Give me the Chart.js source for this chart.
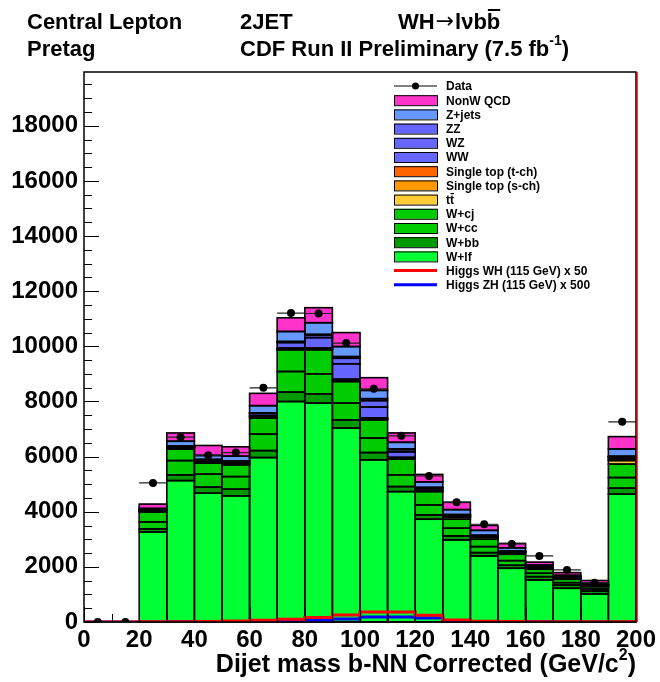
<!DOCTYPE html>
<html>
<head>
<meta charset="utf-8">
<script src="https://cdn.jsdelivr.net/npm/chart.js@4.4.1/dist/chart.umd.min.js"></script>
<style>
  html, body { margin: 0; padding: 0; background: #fff; }
</style>
</head>
<body>
<canvas id="massChart" width="660" height="682"></canvas>
<script>
// dijet mass bins, 10 GeV wide
const binLabels = ['0-10','10-20','20-30','30-40','40-50','50-60','60-70','70-80','80-90','90-100',
  '100-110','110-120','120-130','130-140','140-150','150-160','160-170','170-180','180-190','190-200'];
const binEdges = [0,10,20,30,40,50,60,70,80,90,100,110,120,130,140,150,160,170,180,190,200];
const yTickValues = [0,2000,4000,6000,8000,10000,12000,14000,16000,18000];

const dataCounts = [0,0,5045,6705,6051,6146,8494,11205,11191,10117,8458,6752,5300,4345,3546,2831,2396,1888,1427,7260];

// backgrounds, bottom of the stack first
const wlf   = [0,0,3267,5129,4672,4574,5964,7997,7939,7031,5881,4730,3728,2977,2396,1949,1525,1223,1016,4636];
const wbb   = [0,0,109,207,218,243,254,341,338,301,265,182,156,145,120,109,120,120,109,218];
const wcc   = [0,0,254,519,472,457,595,748,726,606,523,425,363,280,218,167,123,83,73,385];
const wcj   = [0,0,363,414,399,425,581,788,871,784,664,570,483,327,269,232,145,123,83,486];
const ttbar = [0,0,30,40,55,55,60,25,25,40,30,35,25,80,70,60,45,45,45,131];
const stopS = [0,0,5,8,8,8,10,12,12,15,12,10,8,8,7,6,5,4,4,20];
const stopT = [0,0,12,18,20,20,25,25,25,30,25,20,15,15,12,10,8,8,7,73];
const ww    = [0,0,20,30,40,40,80,200,380,560,400,200,70,50,40,30,25,20,15,40];
const wz    = [0,0,5,7,8,8,10,30,90,200,230,80,25,10,8,6,5,4,3,15];
const zz    = [0,0,2,3,3,3,3,8,25,60,70,25,8,3,2,2,2,1,1,5];
const zjets = [0,0,50,181,145,181,265,363,425,363,301,240,203,181,181,120,60,62,40,265];
const qcd   = [0,0,160,301,363,341,447,497,545,508,461,341,269,265,181,160,109,98,109,450];

// signal templates (scaled)
const higgsWH = [0,0,0,5,10,20,36,60,98,160,254,363,363,243,72,25,15,10,8,5];
const higgsZH = [0,0,0,3,5,10,15,30,50,55,110,180,180,145,36,15,8,5,4,3];

const stack = [
  { label: 'W+lf', values: wlf, color: '#00ff33' },
  { label: 'W+bb', values: wbb, color: '#009900' },
  { label: 'W+cc', values: wcc, color: '#00cc00' },
  { label: 'W+cj', values: wcj, color: '#00cc00' },
  { label: 'tt', values: ttbar, color: '#ffcc33' },
  { label: 'Single top (s-ch)', values: stopS, color: '#ff9900' },
  { label: 'Single top (t-ch)', values: stopT, color: '#ff6600' },
  { label: 'WW', values: ww, color: '#6666ff' },
  { label: 'WZ', values: wz, color: '#6666ff' },
  { label: 'ZZ', values: zz, color: '#6666ff' },
  { label: 'Z+jets', values: zjets, color: '#6699ff' },
  { label: 'NonW QCD', values: qcd, color: '#ff33cc' }
];

const FONT = '"Liberation Sans", Arial, Helvetica, sans-serif';

function stepPoints(vals) {
  const pts = vals.map((v, i) => ({ x: binEdges[i], y: v }));
  pts.push({ x: binEdges[binEdges.length - 1], y: vals[vals.length - 1] });
  return pts;
}

const datasets = [];
datasets.push({
  type: 'line', label: 'Data',
  data: dataCounts.map((n, i) => ({ x: (binEdges[i] + binEdges[i + 1]) / 2, y: n })),
  xAxisID: 'xEdge', yAxisID: 'y', stack: 'data',
  showLine: false, pointRadius: 4, pointHoverRadius: 4, pointBackgroundColor: '#000',
  pointBorderColor: '#000', pointBorderWidth: 0, order: 0
});
datasets.push({
  type: 'line', label: 'Higgs WH (115 GeV) x 50', data: stepPoints(higgsWH), xAxisID: 'xEdge', yAxisID: 'y',
  stack: 'wh', stepped: 'after', borderColor: '#ff0000', borderWidth: 3, pointRadius: 0, fill: false, order: 1
});
datasets.push({
  type: 'line', label: 'Higgs ZH (115 GeV) x 500', data: stepPoints(higgsZH), xAxisID: 'xEdge', yAxisID: 'y',
  stack: 'zh', stepped: 'after', borderColor: '#0000ff', borderWidth: 3, pointRadius: 0, fill: false, order: 2
});
stack.forEach(s => {
  datasets.push({
    type: 'bar', label: s.label, data: s.values, xAxisID: 'x', yAxisID: 'y', stack: 'bkg',
    backgroundColor: s.color, borderWidth: 0, barPercentage: 1, categoryPercentage: 1,
    grouped: false, order: 5
  });
});

// black outline on every stacked component, drawn once all the bars are filled
const outlinePlugin = {
  id: 'stackOutline',
  beforeDraw(chart) { chart.$outlined = false; },
  beforeDatasetDraw(chart, args) {
    if (chart.$outlined || args.meta.type === 'bar') return;
    chart.$outlined = true;
    const ctx = chart.ctx;
    ctx.save();
    ctx.strokeStyle = '#000';
    ctx.lineWidth = 1.6;
    chart.data.datasets.forEach((ds, i) => {
      const meta = chart.getDatasetMeta(i);
      if (meta.type !== 'bar') return;
      meta.data.forEach((bar, j) => {
        if (!ds.data[j]) return;
        const p = bar.getProps(['x', 'y', 'base', 'width'], true);
        ctx.strokeRect(p.x - p.width / 2, p.y, p.width, p.base - p.y);
      });
    });
    ctx.restore();
  }
};

// horizontal bin-width bars and sqrt(N) errors on the data
const errorBarPlugin = {
  id: 'dataErrors',
  beforeDatasetDraw(chart, args) {
    if (args.index !== 0) return;
    const ctx = chart.ctx;
    const xs = chart.scales.xEdge, ys = chart.scales.y;
    ctx.save();
    ctx.strokeStyle = '#222';
    ctx.lineWidth = 1.2;
    dataCounts.forEach((n, i) => {
      const y = ys.getPixelForValue(n);
      const x0 = xs.getPixelForValue(binEdges[i]);
      const x1 = xs.getPixelForValue(binEdges[i + 1]);
      const xc = (x0 + x1) / 2;
      ctx.beginPath();
      ctx.moveTo(x0, y); ctx.lineTo(x1, y);
      const e = Math.sqrt(n);
      ctx.moveTo(xc, ys.getPixelForValue(n - e));
      ctx.lineTo(xc, ys.getPixelForValue(n + e));
      ctx.stroke();
    });
    ctx.restore();
  }
};

const framePlugin = {
  id: 'rootFrame',
  afterDraw(chart) {
    const ctx = chart.ctx;
    const a = chart.chartArea;
    const ys = chart.scales.y, xs = chart.scales.xEdge;
    ctx.save();

    // ticks inside the frame
    ctx.strokeStyle = '#000';
    ctx.lineWidth = 1;
    ctx.beginPath();
    for (let v = 0; v <= 19500; v += 500) {
      const y = Math.round(ys.getPixelForValue(v)) + 0.5;
      const len = v % 2000 === 0 ? 15 : 8;
      ctx.moveTo(a.left, y); ctx.lineTo(a.left + len, y);
    }
    for (let v = 0; v <= 200; v += 10) {
      const x = Math.round(xs.getPixelForValue(v)) + 0.5;
      const len = v % 20 === 0 ? 15 : 8;
      ctx.moveTo(x, a.bottom); ctx.lineTo(x, a.bottom - len);
    }
    ctx.stroke();

    // frame
    ctx.lineWidth = 1.5;
    ctx.strokeRect(a.left, a.top, a.right - a.left, a.bottom - a.top);
    ctx.strokeStyle = '#cc0000';
    ctx.beginPath();
    ctx.moveTo(a.right + 1, a.top); ctx.lineTo(a.right + 1, a.bottom);
    ctx.stroke();

    // header text
    ctx.fillStyle = '#000';
    ctx.strokeStyle = '#000';
    ctx.textAlign = 'left';
    ctx.textBaseline = 'alphabetic';
    ctx.font = 'bold 22px ' + FONT;
    ctx.fillText('Central Lepton', 27, 29);
    ctx.fillText('2JET', 240, 29);
    ctx.fillText('Pretag', 27, 56);
    let px = 398;
    ctx.fillText('WH', px, 29);
    px += ctx.measureText('WH').width + 1;
    ctx.font = '22px "DejaVu Sans", sans-serif';
    ctx.fillText('\u2192', px, 28);
    px += ctx.measureText('\u2192').width + 1;
    ctx.font = 'bold 22px ' + FONT;
    ctx.fillText('l\u03bdbb', px, 29);
    const preB = ctx.measureText('l\u03bdb').width;
    const bW = ctx.measureText('b').width;
    ctx.lineWidth = 2;
    ctx.beginPath();
    ctx.moveTo(px + preB + 1, 10); ctx.lineTo(px + preB + bW, 10);
    ctx.stroke();
    const lumi = 'CDF Run II Preliminary (7.5 fb';
    ctx.fillText(lumi, 240, 56);
    let lx = 240 + ctx.measureText(lumi).width;
    ctx.font = 'bold 14px ' + FONT;
    ctx.fillText('-1', lx, 45);
    lx += ctx.measureText('-1').width;
    ctx.font = 'bold 22px ' + FONT;
    ctx.fillText(')', lx, 56);

    // x axis title
    const xt = 'Dijet mass b-NN Corrected (GeV/c';
    ctx.font = 'bold 16px ' + FONT;
    const supW = ctx.measureText('2').width;
    ctx.font = 'bold 25px ' + FONT;
    const closeW = ctx.measureText(')').width;
    const xtW = ctx.measureText(xt).width;
    let tx = a.right - closeW - supW - xtW;
    ctx.fillText(xt, tx, 672);
    tx += xtW;
    ctx.font = 'bold 16px ' + FONT;
    ctx.fillText('2', tx, 660);
    tx += supW;
    ctx.font = 'bold 25px ' + FONT;
    ctx.fillText(')', tx, 672);

    // legend
    const legend = [{ label: 'Data', kind: 'data' }, { label: 'NonW QCD', kind: 'box', color: '#ff33cc' },
      { label: 'Z+jets', kind: 'box', color: '#6699ff' }, { label: 'ZZ', kind: 'box', color: '#6666ff' },
      { label: 'WZ', kind: 'box', color: '#6666ff' }, { label: 'WW', kind: 'box', color: '#6666ff' },
      { label: 'Single top (t-ch)', kind: 'box', color: '#ff6600' },
      { label: 'Single top (s-ch)', kind: 'box', color: '#ff9900' },
      { label: 'tt', kind: 'box', color: '#ffcc33', bar: 1 }, { label: 'W+cj', kind: 'box', color: '#00cc00' },
      { label: 'W+cc', kind: 'box', color: '#00cc00' }, { label: 'W+bb', kind: 'box', color: '#009900' },
      { label: 'W+lf', kind: 'box', color: '#00ff33' },
      { label: 'Higgs WH (115 GeV) x 50', kind: 'line', color: '#ff0000' },
      { label: 'Higgs ZH (115 GeV) x 500', kind: 'line', color: '#0000ff' }];
    const sx0 = 394, sx1 = 437, textX = 446;
    ctx.font = 'bold 12px ' + FONT;
    ctx.textBaseline = 'middle';
    legend.forEach((it, i) => {
      const y = 86 + i * 14.2;
      if (it.kind === 'data') {
        ctx.strokeStyle = '#000'; ctx.lineWidth = 1;
        ctx.beginPath(); ctx.moveTo(sx0, y); ctx.lineTo(sx1, y); ctx.stroke();
        ctx.fillStyle = '#000';
        ctx.beginPath(); ctx.arc((sx0 + sx1) / 2, y, 3.5, 0, Math.PI * 2); ctx.fill();
      } else if (it.kind === 'box') {
        ctx.fillStyle = it.color;
        ctx.fillRect(sx0, y - 5, sx1 - sx0, 10);
        ctx.strokeStyle = '#000'; ctx.lineWidth = 1;
        ctx.strokeRect(sx0 + 0.5, y - 4.5, sx1 - sx0, 10);
      } else {
        ctx.strokeStyle = it.color; ctx.lineWidth = 3;
        ctx.beginPath(); ctx.moveTo(sx0, y); ctx.lineTo(sx1, y); ctx.stroke();
      }
      ctx.fillStyle = '#000';
      ctx.fillText(it.label, textX, y + 1);
      if (it.bar) {
        const pre = ctx.measureText(it.label.slice(0, it.bar)).width;
        const w = ctx.measureText(it.label.charAt(it.bar)).width;
        ctx.strokeStyle = '#000'; ctx.lineWidth = 1.3;
        ctx.beginPath(); ctx.moveTo(textX + pre + 0.5, y - 6); ctx.lineTo(textX + pre + w, y - 6); ctx.stroke();
      }
    });
    ctx.restore();
  }
};

new Chart(document.getElementById('massChart'), {
  data: { labels: binLabels, datasets: datasets },
  options: {
    responsive: false,
    animation: false,
    devicePixelRatio: 1,
    layout: { padding: { top: 72, right: 23, left: 0, bottom: 0 } },
    plugins: { legend: { display: false }, tooltip: { enabled: false } },
    scales: {
      x: { type: 'category', display: false, offset: true, stacked: true },
      xEdge: {
        type: 'linear', position: 'bottom', min: 0, max: 200,
        afterFit(s) { s.height = 60; },
        grid: { display: false, drawTicks: false },
        border: { display: false },
        ticks: { stepSize: 20, padding: 4, color: '#000', maxRotation: 0, autoSkip: false,
          font: { family: FONT, size: 24, weight: 'bold' } }
      },
      y: {
        stacked: true, min: 0, max: 19950,
        afterFit(s) { s.width = 84; },
        afterBuildTicks(s) { s.ticks = yTickValues.map(v => ({ value: v })); },
        grid: { display: false, drawTicks: false },
        border: { display: false },
        ticks: { padding: 6, color: '#000', autoSkip: false,
          font: { family: FONT, size: 24, weight: 'bold' },
          callback: v => String(v) }
      }
    }
  },
  plugins: [outlinePlugin, errorBarPlugin, framePlugin]
});
</script>
</body>
</html>
